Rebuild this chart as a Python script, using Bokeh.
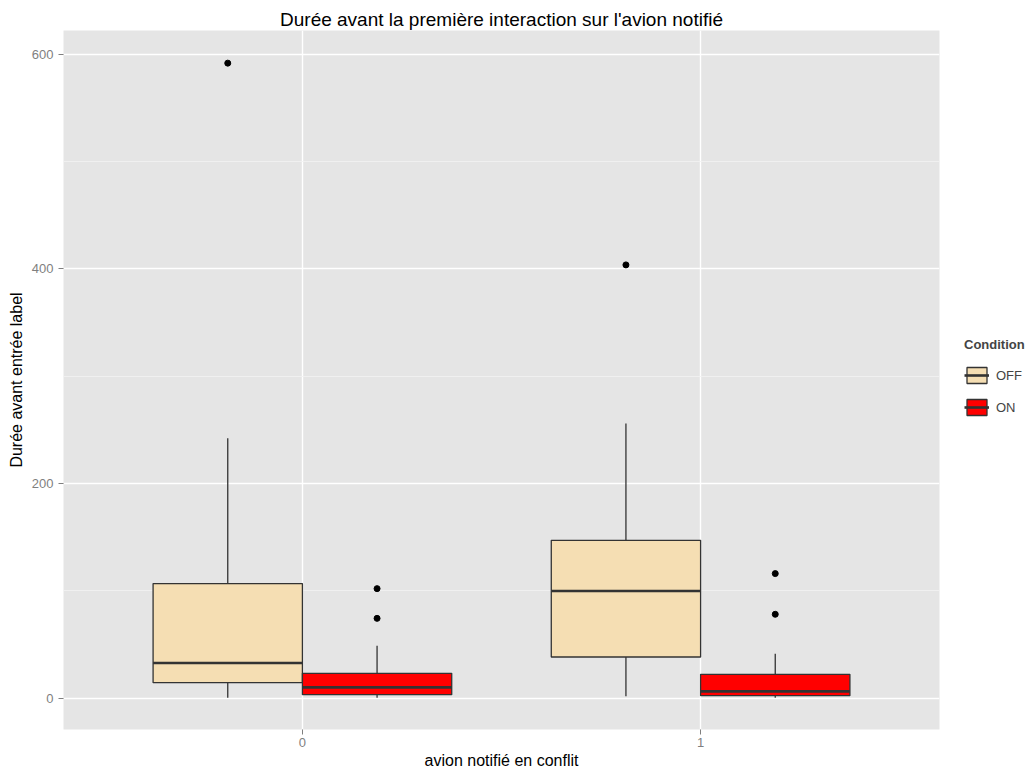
from bokeh.plotting import figure
from bokeh.layouts import row
from bokeh.models import (ColumnDataSource, Range1d, FixedTicker, SingleIntervalTicker,
                          Legend, LegendItem)
from bokeh.transform import dodge
from bokeh.embed import file_html
from bokeh.resources import INLINE

# ---------------- data ----------------
categories = ["0", "1"]
cat_pos = [0, 1]
conditions = ["OFF", "ON"]
fill_colors = ["#F5DEB3", "#FF0000"]

off_q1 = [14.6, 38.5]
off_median = [32.9, 100.0]
off_q3 = [106.9, 147.2]
off_lower = [0.6, 1.9]
off_upper = [242.2, 256.0]

on_q1 = [3.4, 2.5]
on_median = [10.2, 6.5]
on_q3 = [23.3, 22.4]
on_lower = [0.5, 0.6]
on_upper = [49.1, 41.6]

off_outlier_cat = ["0", "1"]
off_outliers = [591.6, 403.7]
on_outlier_cat = ["0", "0", "1", "1"]
on_outliers = [102.2, 74.5, 116.2, 78.3]

# ---------------- figure ----------------
FONT = "Liberation Sans"
DODGE = 0.1875
BOXW = 0.375
H = 776
W_MAIN, W_LEG = 952, 80
BL, BR, BT, BB = 63, 13, 30, 47

p = figure(width=W_MAIN, height=H, output_backend="svg", toolbar_location=None,
           x_range=Range1d(-0.6, 1.6), y_range=Range1d(-29.0, 622.0),
           title="Durée avant la première interaction sur l'avion notifié",
           x_axis_label="avion notifié en conflit",
           y_axis_label="Durée avant entrée label",
           min_border_left=BL, min_border_right=BR, min_border_top=BT, min_border_bottom=BB)

p.background_fill_color = "#e5e5e5"
p.border_fill_color = "white"
p.outline_line_color = None

p.title.align = "center"
p.title.text_font = FONT
p.title.text_font_size = "19px"
p.title.text_font_style = "normal"
p.title.text_color = "black"
p.title.standoff = 2

# grids
p.xgrid.grid_line_color = "white"
p.xgrid.grid_line_width = 1.4
p.ygrid.grid_line_color = "white"
p.ygrid.grid_line_width = 1.4
p.ygrid.minor_grid_line_color = "#f2f2f2"
p.ygrid.minor_grid_line_width = 0.8

# axes
p.xaxis.ticker = FixedTicker(ticks=cat_pos)
p.xaxis.major_label_overrides = {pos: lab for pos, lab in zip(cat_pos, categories)}
p.yaxis.ticker = SingleIntervalTicker(interval=200, num_minor_ticks=2)
for ax in (p.xaxis[0], p.yaxis[0]):
    ax.axis_line_color = None
    ax.major_tick_line_color = "#7f7f7f"
    ax.major_tick_in = 0
    ax.major_tick_out = 5
    ax.minor_tick_line_color = None
    ax.major_label_text_font = FONT
    ax.major_label_text_font_size = "13px"
    ax.major_label_text_color = "#7f7f7f"
    ax.axis_label_text_font = FONT
    ax.axis_label_text_font_size = "16px"
    ax.axis_label_text_font_style = "normal"
    ax.axis_label_text_color = "black"
p.xaxis.major_label_standoff = 3
p.xaxis.axis_label_standoff = 2
p.yaxis.major_label_standoff = 5
p.yaxis.axis_label_standoff = 4

# ---------------- boxes ----------------
groups = [
    ("OFF", -DODGE, fill_colors[0], off_q1, off_median, off_q3, off_lower, off_upper,
     off_outlier_cat, off_outliers),
    ("ON", DODGE, fill_colors[1], on_q1, on_median, on_q3, on_lower, on_upper,
     on_outlier_cat, on_outliers),
]

# legend panel (separate narrow canvas to the right of the plot)
lg = figure(width=W_LEG, height=H, output_backend="svg", toolbar_location=None,
            x_axis_location=None, y_axis_location=None, min_border=0,
            x_range=Range1d(-0.6, 1.6), y_range=Range1d(-29.0, 622.0))
lg.outline_line_color = None
lg.xgrid.visible = False
lg.ygrid.visible = False
lg.background_fill_color = "white"
lg.border_fill_color = "white"

pos_of = dict(zip(categories, cat_pos))
legend_items = []
for name, off, color, q1, med, q3, lo, hi, ocat, ovals in groups:
    src = ColumnDataSource(dict(x=cat_pos, q1=q1, med=med, q3=q3, lo=lo, hi=hi))
    xc = dodge("x", off, range=p.x_range)
    p.segment(x0=xc, x1=xc, y0="q3", y1="hi", source=src, line_color="#333333", line_width=1.3)
    p.segment(x0=xc, x1=xc, y0="q1", y1="lo", source=src, line_color="#333333", line_width=1.3)
    p.vbar(x=xc, width=BOXW, top="q3", bottom="q1", source=src,
           fill_color=color, line_color="#333333", line_width=1.3)
    p.segment(x0=dodge("x", off - BOXW / 2, range=p.x_range),
              x1=dodge("x", off + BOXW / 2, range=p.x_range),
              y0="med", y1="med", source=src, line_color="#333333", line_width=2.6)
    osrc = ColumnDataSource(dict(x=[pos_of[c] for c in ocat], y=ovals))
    p.scatter(x=dodge("x", off, range=p.x_range), y="y", source=osrc, size=6,
              fill_color="black", line_color="black")

    # hidden legend-key proxies sharing the same data and style
    kbox = lg.vbar(x=xc, width=BOXW, top="q3", bottom="q1", source=src,
                   fill_color=color, line_color="#333333", line_width=1.3, visible=False)
    kmed = lg.segment(x0=dodge("x", off - BOXW / 2, range=p.x_range),
                      x1=dodge("x", off + BOXW / 2, range=p.x_range),
                      y0="med", y1="med", source=src, line_color="#333333", line_width=2.6,
                      visible=False)
    legend_items.append(LegendItem(label=name, renderers=[kbox, kmed]))

legend = Legend(items=legend_items, title="Condition", location=(12, 312),
                title_text_font=FONT, title_text_font_size="13px", title_text_font_style="bold",
                title_standoff=13,
                label_text_font=FONT, label_text_font_size="13px",
                glyph_width=25, glyph_height=20, spacing=12, label_standoff=7,
                padding=0, margin=0, border_line_color=None, background_fill_alpha=0)
lg.add_layout(legend, "center")

layout = row(p, lg, spacing=0)
open("out.html", "w").write(file_html(layout, INLINE))
